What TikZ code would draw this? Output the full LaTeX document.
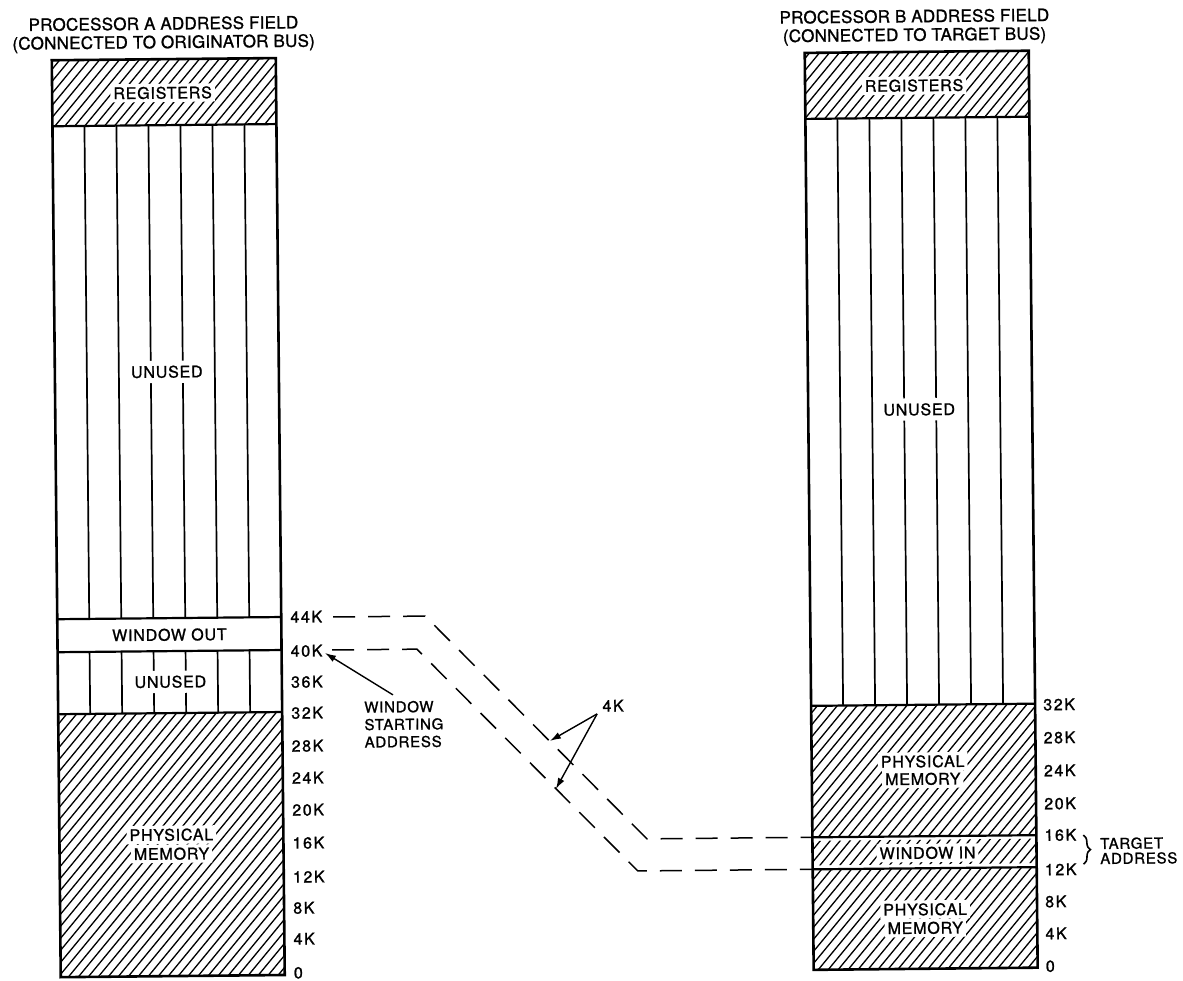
\documentclass[tikz,border=0pt]{standalone}
\usepackage{fontspec}
\setmainfont{TeX Gyre Heros}
\newfontfamily\hdrfont[LetterSpace=1.5,FakeBold=1.2]{TeX Gyre Heros}
\newfontfamily\lblfont[LetterSpace=5,FakeBold=1.2]{TeX Gyre Heros}
\newfontfamily\kfont[LetterSpace=10,FakeBold=1.4]{TeX Gyre Heros}
\usetikzlibrary{arrows.meta,decorations.pathreplacing}
\tikzset{
  colborder/.style={line width=2.6pt},
  divline/.style={line width=2.2pt},
  vline/.style={line width=1.7pt},
  hatchline/.style={line width=1.3pt},
  hdr/.style={font=\hdrfont\fontsize{17}{20}\selectfont, inner sep=0pt, anchor=base},
  inlbl/.style={font=\lblfont\fontsize{16}{19}\selectfont, fill=white, inner sep=3pt, anchor=base},
  klbl/.style={font=\kfont\fontsize{16}{19}\selectfont, inner sep=0pt, anchor=base west},
  note/.style={font=\lblfont\fontsize{15}{18}\selectfont, inner sep=0pt, anchor=base west},
  dashline/.style={line width=1.5pt, dash pattern=on 22pt off 13pt},
  pointer/.style={line width=1.4pt, -{Latex[length=11pt,width=7pt]}},
  bracestyle/.style={line width=1.6pt, decorate, decoration={brace, amplitude=7pt}}
}
\newcommand\hatchrect[5]{%
  \begin{scope}
    \clip (#1,#2) rectangle (#3,#4);
    \foreach \hx in {-760,-750,...,1050}
      \draw[hatchline] ({\hx+#5},1000) -- ++(840,-1000);
  \end{scope}}
\begin{document}
\begin{tikzpicture}[x=1pt,y=-1pt]
\useasboundingbox (0,0) rectangle (1183,981);
\begin{scope}[rotate around={0.56:(591.5,490.5)}, transform shape]
% ---------- hatching ----------
\hatchrect{56}{55}{280}{121}{0}
\hatchrect{56}{709}{280}{972}{0}
\hatchrect{809}{55}{1033}{121}{0}
\hatchrect{809}{708}{1033}{839.5}{0}
\hatchrect{809}{843}{1033}{867.5}{5}
\hatchrect{809}{871.5}{1033}{972}{0}
% ---------- vertical lines of unused areas ----------
\foreach \vx in {88,120,...,248} {
  \draw[vline] (\vx,121) -- (\vx,614);
  \draw[vline] (\vx,647) -- (\vx,709);
}
\foreach \vx in {841,873,...,1001}
  \draw[vline] (\vx,121) -- (\vx,708);
% ---------- dividers ----------
\draw[divline] (56,121) -- (280,121);
\draw[divline] (56,614) -- (280,614);
\draw[divline] (56,647) -- (280,647);
\draw[divline] (56,709) -- (280,709);
\draw[divline] (809,121) -- (1033,121);
\draw[divline] (809,708) -- (1033,708);
\draw[divline] (809,839.5) -- (1033,839.5);
\draw[divline] (809,871.5) -- (1033,871.5);
% ---------- frames ----------
\draw[colborder] (56,55) rectangle (280,972);
\draw[colborder] (809,55) rectangle (1033,972);
% ---------- headers ----------
\node[hdr] (ha1) at (168,25.5) {PROCESSOR A ADDRESS FIELD};
\node[hdr] (ha2) at (168,44) {(CONNECTED TO ORIGINATOR BUS)};
\node[hdr] (hb1) at (919,25.5) {PROCESSOR B ADDRESS FIELD};
\node[hdr] (hb2) at (919,44) {(CONNECTED TO TARGET BUS)};
% ---------- labels inside columns ----------
\node[inlbl] (rega) at (166.5,94.5) {REGISTERS};
\node[inlbl] (regb) at (918,94.5) {REGISTERS};
\node[inlbl, inner sep=5pt] (unua) at (168,373.5) {UNUSED};
\node[inlbl, inner sep=5pt] (unub) at (920,418.5) {UNUSED};
\node[inlbl] (wout) at (168,636.5) {WINDOW OUT};
\node[inlbl, inner sep=5pt] (unua2) at (168.5,683.5) {UNUSED};
\node[inlbl] (pma1) at (168,836.5) {PHYSICAL};
\node[inlbl] (pma2) at (168,855.5) {MEMORY};
\node[inlbl] (pmb1) at (920,770.5) {PHYSICAL};
\node[inlbl] (pmb2) at (920,788) {MEMORY};
\node[inlbl] (win) at (924,862) {WINDOW IN};
\node[inlbl] (pmc1) at (921,918.5) {PHYSICAL};
\node[inlbl] (pmc2) at (921,937) {MEMORY};
% ---------- address labels, column A ----------
\node[klbl] (a44) at (289,619.75) {44K};
\node[klbl] (a40) at (289,653.75) {40K};
\node[klbl] (a36) at (289,684.75) {36K};
\node[klbl] (a32) at (289,715.75) {32K};
\node[klbl] (a28) at (289,748.75) {28K};
\node[klbl] (a24) at (289,780.75) {24K};
\node[klbl] (a20) at (289,812.75) {20K};
\node[klbl] (a16) at (289,845.75) {16K};
\node[klbl] (a12) at (289,879.75) {12K};
\node[klbl] (a8) at (289,910.75) {8K};
\node[klbl] (a4) at (289,941.75) {4K};
\node[klbl] (a0) at (289,975.5) {0};
% ---------- address labels, column B ----------
\node[klbl] (b32) at (1041,714.75) {32K};
\node[klbl] (b28) at (1041,747.75) {28K};
\node[klbl] (b24) at (1041,780.75) {24K};
\node[klbl] (b20) at (1041,813.75) {20K};
\node[klbl] (b16) at (1041,845.25) {16K};
\node[klbl] (b12) at (1041,879.75) {12K};
\node[klbl] (b8) at (1041,911.75) {8K};
\node[klbl] (b4) at (1041,943.75) {4K};
\node[klbl] (b0) at (1041,976.25) {0};
% ---------- target address ----------
\coordinate (brtop) at (1080,840);
\coordinate (brbot) at (1080,869);
\draw[bracestyle] (brtop) -- (brbot);
\node[note] (tgt1) at (1096.5,854) {TARGET};
\node[note] (tgt2) at (1096.5,869) {ADDRESS};
% ---------- dashed window mapping ----------
\coordinate (u0) at (332,614.5);
\coordinate (u1) at (424,614.5);
\coordinate (u2) at (643.6,839.5);
\coordinate (u3) at (809,839.5);
\coordinate (l0) at (330.5,647.5);
\coordinate (l1) at (415.4,647.5);
\coordinate (l2) at (634.2,871.5);
\coordinate (l3) at (809,871.5);
\draw[dashline] (u0) -- (u1) -- (u2) -- (u3);
\draw[dashline] (l0) -- (l1) -- (l2) -- (l3);
% ---------- window starting address ----------
\node[note] (ws1) at (362,710.4) {WINDOW};
\node[note] (ws2) at (362,727.9) {STARTING};
\node[note] (ws3) at (362,745.4) {ADDRESS};
\coordinate (wsfrom) at (391,693);
\coordinate (wsto) at (323.4,650.4);
\draw[pointer] (wsfrom) -- (wsto);
% ---------- 4K ----------
\node[klbl, anchor=base] (fourk) at (611,711.75) {4K};
\coordinate (fkfrom) at (595,714);
\coordinate (fkup) at (547.5,740.6);
\coordinate (fklow) at (553,788.7);
\draw[pointer] (fkfrom) -- (fkup);
\draw[pointer] (fkfrom) -- (fklow);
\end{scope}
\end{tikzpicture}
\end{document}
